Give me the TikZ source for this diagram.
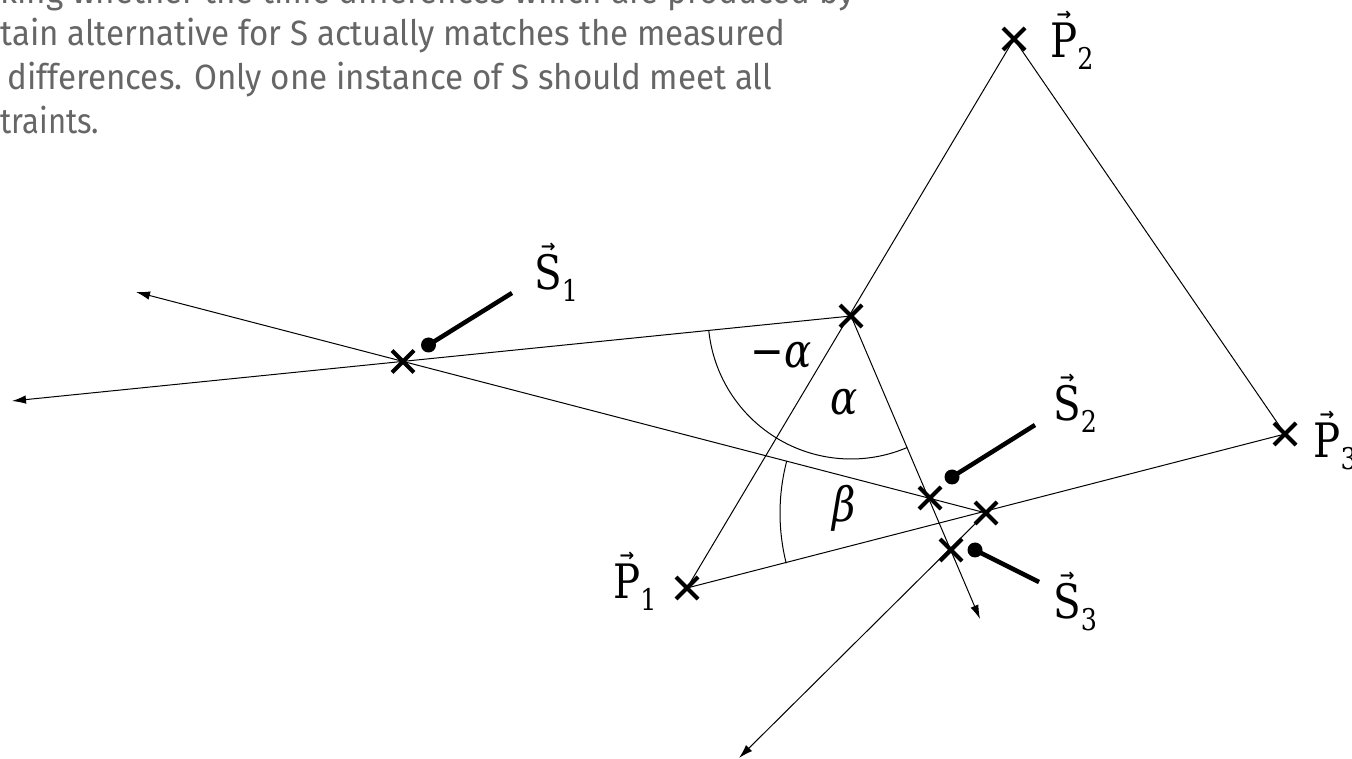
\documentclass[tikz,border=0pt]{standalone}
\usepackage{fontspec}
\usepackage{graphicx}
\setmainfont{DejaVu Serif}
\newfontfamily\labfont[FakeStretch=0.85]{DejaVu Serif}
\newfontfamily\arrfont{DejaVu Sans}
\newfontfamily\bodyfont{Fira Sans}
\usetikzlibrary{shapes.misc,arrows.meta,calc}
\definecolor{bodygray}{RGB}{102,102,102}
\newlength\fitw
\newcommand\fitline[2]{\settowidth\fitw{#2}\pgfmathsetmacro\fitr{#1/\fitw}\scalebox{\fitr}[1]{#2}}
\newcommand\vlab[2]{{\labfont\fontsize{27}{27}\selectfont
  \vbox{\offinterlineskip\halign{\hfil##\hfil\cr{\arrfont\bfseries\fontsize{10}{10}\selectfont →}\cr\noalign{\kern1.5pt}#1\cr}}%
  \raisebox{-6.5pt}{\fontsize{17}{17}\selectfont #2}}}
\newcommand\glab[1]{{\labfont\fontsize{27}{27}\selectfont #1}}
\tikzset{
  xmark/.style={cross out, draw, line width=0.08cm, minimum size=0.36cm, inner sep=0pt},
  thinline/.style={line width=0.02cm},
  arrowline/.style={thinline, -{Latex[length=0.28cm,width=0.17cm]}},
  pointer/.style={line width=0.09cm},
  dotnode/.style={circle, fill, inner sep=0pt, minimum size=0.3cm},
  labnode/.style={anchor=base west, inner sep=0pt},
  bodytext/.style={anchor=base west, inner sep=0pt, text=bodygray, font=\bodyfont\fontsize{20}{20}\selectfont},
}
\begin{document}
\begin{tikzpicture}[x=0.02cm,y=-0.02cm]
\useasboundingbox (0,0) rectangle (1352,759);
\clip (0,0) rectangle (1352,759);
% paragraph fragment
\node[bodytext] (t1) at (0,4) {\fitline{17.1cm}{king whether the time differences which are produced by}};
\node[bodytext] (t2) at (0,46) {\fitline{15.7cm}{tain alternative for S actually matches the measured}};
\node[bodytext] (t3) at (7,90) {\fitline{15.3cm}{differences. Only one instance of S should meet all}};
\node[bodytext] (t4) at (0,134) {\fitline{1.98cm}{traints.}};
% points
\node[xmark] (p1) at (687,588) {};
\node[xmark] (p2) at (1014,39) {};
\node[xmark] (p3) at (1285,434) {};
\node[xmark] (m12) at (851,316) {};
\node[xmark] (m13) at (986,513) {};
\node[xmark] (s1) at (403,361.5) {};
\node[xmark] (s2) at (930,498) {};
\node[xmark] (s3) at (951,550) {};
\coordinate (a1) at (136,292);
\coordinate (a2) at (12,401);
\coordinate (a3) at (980,619);
\coordinate (a4) at (739,758);
% triangle
\draw[thinline] (p1.center) -- (p2.center) -- (p3.center) -- cycle;
% rays
\draw[arrowline] (m13.center) -- (a1);
\draw[arrowline] (m12.center) -- (a2);
\draw[arrowline] (m12.center) -- (a3);
\draw[arrowline] (m13.center) -- (a4);
% angle arcs
\draw[thinline] ($(m12.center)!2.86cm!(s1.center)$) arc[start angle=174.2, end angle=66.9, radius=143];
\draw[thinline] ($(m13.center)!4.12cm!(s1.center)$) arc[start angle=194.6, end angle=165.9, radius=206];
% pointers
\node[dotnode] (d1) at (428.5,345) {};
\node[dotnode] (d2) at (952,477) {};
\node[dotnode] (d3) at (975,550) {};
\coordinate (e1) at (512,293);
\coordinate (e2) at (1035,425);
\coordinate (e3) at (1039,582);
\draw[pointer] (d1.center) -- (e1);
\draw[pointer] (d2.center) -- (e2);
\draw[pointer] (d3.center) -- (e3);
% labels
\node[labnode] (ls1) at (534,290) {\vlab{S}{1}};
\node[labnode] (ls2) at (1053,421) {\vlab{S}{2}};
\node[labnode] (ls3) at (1053,619) {\vlab{S}{3}};
\node[labnode] (lp1) at (613,599) {\vlab{P}{1}};
\node[labnode] (lp2) at (1050,58) {\vlab{P}{2}};
\node[labnode] (lp3) at (1313,458) {\vlab{P}{3}};
\node[labnode] (lma) at (750,368) {\glab{−\textit{α}}};
\node[labnode] (la) at (830,415) {\glab{\textit{α}}};
\node[labnode] (lb) at (832,522) {\glab{\textit{β}}};
\end{tikzpicture}
\end{document}
